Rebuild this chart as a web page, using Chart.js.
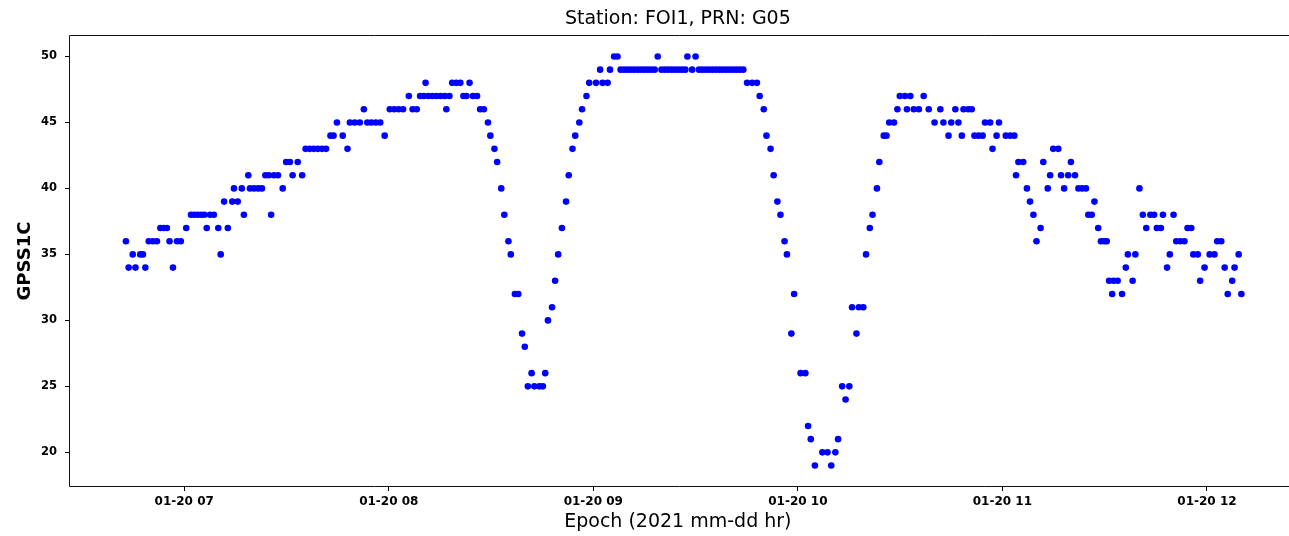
<!DOCTYPE html>
<html><head><meta charset="utf-8">
<script src="https://cdn.jsdelivr.net/npm/chart.js@4/dist/chart.umd.min.js"></script>
<style>html,body{margin:0;padding:0;background:#fff;overflow:hidden}#wrap{width:1289px;height:536px}</style>
</head><body><div id="wrap"><canvas id="c" width="1289" height="536"></canvas></div>
<script>
// Epoch in minutes after 2021-01-20 06:00
const epochMinutes = [
 42.9,43.7,44.9,45.7,47.1,47.9,48.6,49.6,50.8,52.0,
 53.0,54.0,54.9,55.7,56.7,57.9,59.0,60.6,62.0,63.0,
 64.0,65.0,65.9,66.6,67.6,68.7,70.0,70.7,71.7,72.8,
 74.1,74.6,75.7,76.9,77.5,78.8,79.3,80.5,81.7,82.8,
 83.8,84.8,85.5,86.3,87.5,88.9,89.9,91.0,91.8,93.3,
 94.6,95.6,96.8,98.0,99.2,100.4,101.6,102.9,103.8,104.8,
 106.5,107.9,108.6,110.0,111.5,112.7,113.7,114.9,116.2,117.5,
 118.8,120.3,121.6,122.9,124.2,125.9,127.0,128.2,129.2,130.3,
 130.8,131.6,132.8,134.0,135.2,136.4,136.9,137.8,138.6,139.8,
 141.0,141.9,142.8,143.7,144.7,145.9,146.8,147.9,149.1,149.8,
 151.0,151.8,153.0,153.9,155.1,155.8,157.0,158.0,159.1,159.9,
 160.8,161.9,162.7,164.2,165.2,165.9,166.7,167.9,168.8,169.7,
 170.8,172.0,172.8,173.9,174.7,175.9,176.7,178.0,178.8,180.8,
 182.0,182.7,184.2,184.9,186.1,187.1,188,189,190,191,
 192,193,194,195,196,197,198,198.9,200,201,
 202,203,204,205,206,207,207.6,209,210,211,
 212,213,214,215,216,217,218,219,220,221,
 222,223,224,225.1,226.6,228.0,228.8,230.0,230.8,232.0,
 232.9,234.0,234.9,236.1,236.8,238.1,238.9,240.8,242.2,243.0,
 243.8,245.0,247.2,248.7,249.8,251.0,251.8,253.0,254.0,255.1,
 255.9,257.2,257.9,259.2,260.0,261.1,261.9,263.2,263.9,265.2,
 266.0,266.8,268.2,269.2,269.9,271.4,272.0,273.0,274.0,275.5,
 276.9,278.4,280.1,281.8,282.7,284.2,285.0,286.2,287.1,288.1,
 288.6,290.0,291.0,291.8,293.0,294.2,294.9,296.4,297.1,298.3,
 299.0,301.0,302.3,303.5,304.0,304.7,306.1,307.2,308.1,309.1,
 310.0,311.2,312.0,313.3,314.0,314.9,316.4,317.2,318.1,319.3,
 320.1,321.3,322.3,323.4,324.5,325.2,326.2,327.0,328.1,328.9,
 329.9,330.6,331.3,332.2,332.6,333.8,335.1,336.2,336.8,338.2,
 339.0,340.2,341.2,342.2,343.4,344.5,345.3,346.5,347.1,348.3,
 349.1,350.2,351.0,352.2,353.4,354.3,355.4,356.0,357.3,358.0,
 359.3,360.8,362.2,363.0,364.2,365.2,366.1,367.4,368.1,369.3,370.1
];
const gpsS1C = [
 36,34,35,34,35,35,34,36,36,36,
 37,37,37,36,34,36,36,37,38,38,
 38,38,38,37,38,38,37,35,39,37,
 39,40,39,40,38,41,40,40,40,40,
 41,41,38,41,41,40,42,42,41,42,
 41,43,43,43,43,43,43,44,44,45,
 44,43,45,45,45,46,45,45,45,45,
 44,46,46,46,46,47,46,46,47,47,
 48,47,47,47,47,47,46,47,48,48,
 48,47,47,48,47,47,46,46,45,44,
 43,42,40,38,36,35,32,32,29,28,
 25,26,25,25,25,26,30,31,33,35,
 37,39,41,43,44,45,46,47,48,48,
 49,48,48,49,50,50,49,49,49,49,
 49,49,49,49,49,49,49,50,49,49,
 49,49,49,49,49,49,50,49,50,49,
 49,49,49,49,49,49,49,49,49,49,
 49,49,49,48,48,48,47,46,44,43,
 41,39,38,36,35,29,32,26,26,22,
 21,19,20,20,19,20,21,25,24,25,
 31,29,31,31,35,37,38,40,42,44,
 44,45,45,46,47,47,46,47,46,46,
 47,46,45,46,45,44,45,46,45,44,
 46,46,46,44,44,44,45,45,43,44,
 45,44,44,44,41,42,42,40,39,38,
 36,37,42,40,41,43,43,41,40,41,
 42,41,40,40,40,38,38,39,37,36,
 36,36,33,32,33,33,32,34,35,33,
 35,40,38,37,38,38,37,37,38,34,
 35,38,36,36,36,37,37,35,35,33,
 34,35,35,36,36,34,32,33,34,35,32
];
const xTickMinutes = [60, 120, 180, 240, 300, 360];
const xTickLabels = ['01-20 07', '01-20 08', '01-20 09', '01-20 10', '01-20 11', '01-20 12'];
const yTickValues = [20, 25, 30, 35, 40, 45, 50];
const xRange = [26.5, 383.1];
const yRange = [17.45, 51.55];

const FONT = "'DejaVu Sans', 'Liberation Sans', sans-serif";
Chart.defaults.font.family = FONT;
Chart.defaults.color = '#000';

// left, top and bottom spines; the right spine lies outside the picture
const frame = {
  id: 'frame',
  afterDraw(chart) {
    const a = chart.chartArea, ctx = chart.ctx;
    const L = Math.round(a.left) - 0.5, T = Math.round(a.top) - 0.5, B = Math.round(a.bottom) + 0.5;
    const R = chart.width;
    ctx.save();
    ctx.strokeStyle = '#111';
    ctx.lineWidth = 1;
    ctx.beginPath();
    ctx.moveTo(R, T); ctx.lineTo(L, T); ctx.lineTo(L, B); ctx.lineTo(R, B);
    ctx.stroke();
    ctx.restore();
  }
};

new Chart(document.getElementById('c'), {
  type: 'scatter',
  data: {
    datasets: [{
      data: epochMinutes.map((t, i) => ({ x: t, y: gpsS1C[i] })),
      pointRadius: 3.3,
      pointHoverRadius: 3.3,
      pointBackgroundColor: '#0000ff',
      pointBorderWidth: 0,
      borderWidth: 0
    }]
  },
  options: {
    responsive: false,
    devicePixelRatio: 1,
    animation: false,
    events: [],
    layout: { padding: { left: 0, right: 1, top: 0, bottom: 0 } },
    plugins: {
      legend: { display: false },
      tooltip: { enabled: false },
      title: {
        display: true,
        text: 'Station: FOI1, PRN: G05',
        fullSize: false,
        color: '#000',
        font: { family: FONT, size: 19, weight: 'normal', lineHeight: 1.2 },
        padding: { top: 8, bottom: 5.2 }
      }
    },
    scales: {
      x: {
        type: 'linear',
        min: xRange[0],
        max: xRange[1],
        afterBuildTicks: s => { s.ticks = xTickMinutes.map(v => ({ value: v })); },
        afterFit: s => { s.height = 50; },
        ticks: {
          autoSkip: false,
          maxRotation: 0,
          padding: 4,
          color: '#000',
          font: { family: FONT, size: 12, weight: 'bold' },
          callback: v => xTickLabels[xTickMinutes.indexOf(v)]
        },
        grid: { drawOnChartArea: false, drawTicks: true, tickLength: 5, tickColor: '#000', color: '#000' },
        border: { display: false },
        title: {
          display: true,
          text: 'Epoch (2021 mm-dd hr)',
          color: '#000',
          font: { family: FONT, size: 19, weight: 'normal', lineHeight: 1.2 },
          padding: { top: 0, bottom: 3 }
        }
      },
      y: {
        type: 'linear',
        min: yRange[0],
        max: yRange[1],
        afterBuildTicks: s => { s.ticks = yTickValues.map(v => ({ value: v })); },
        afterFit: s => { s.width = 70; },
        ticks: {
          padding: 8,
          color: '#000',
          font: { family: FONT, size: 11.5, weight: 'bold' },
          callback: v => String(v)
        },
        grid: { drawOnChartArea: false, drawTicks: true, tickLength: 5, tickColor: '#000', color: '#000' },
        border: { display: false },
        title: {
          display: true,
          text: 'GPSS1C',
          color: '#000',
          font: { family: FONT, size: 18, weight: 'bold', lineHeight: 1.2 },
          padding: { top: 15, bottom: 0 }
        }
      }
    }
  },
  plugins: [frame]
});
</script>
</body></html>
